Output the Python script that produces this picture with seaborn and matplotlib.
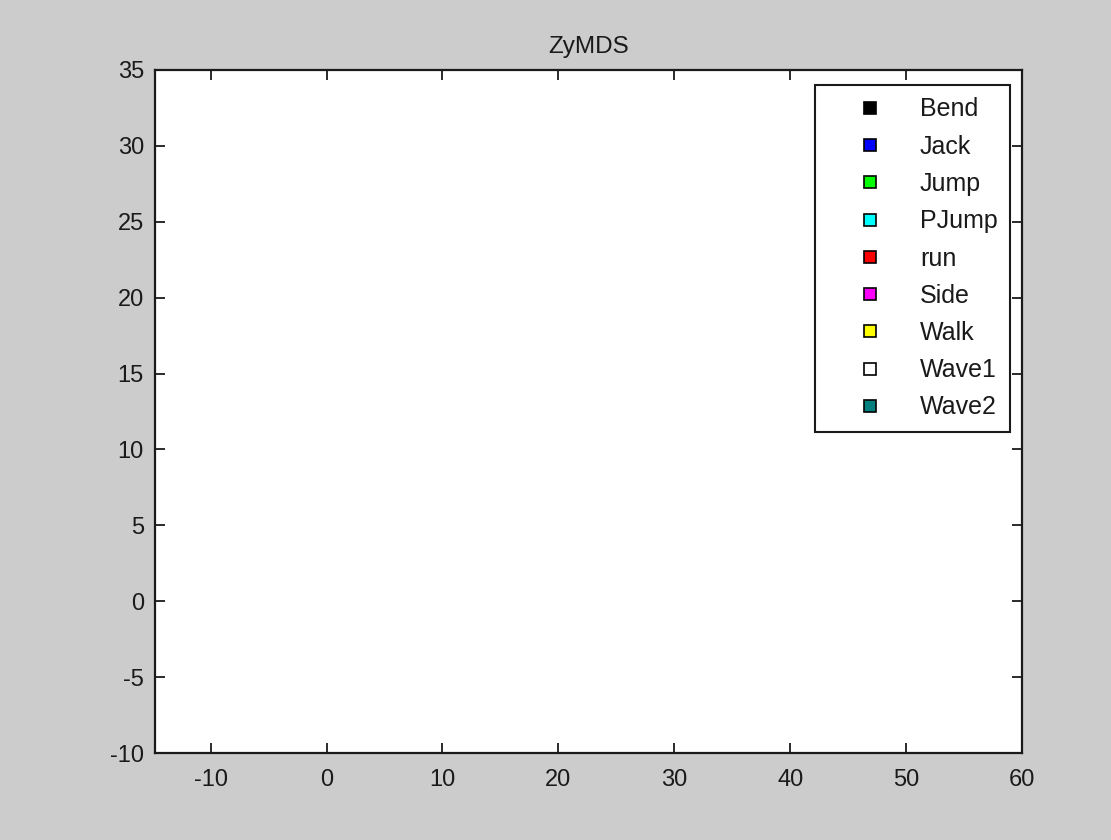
import matplotlib
matplotlib.use("Agg")
import matplotlib.pyplot as plt
import seaborn as sns
import pandas as pd

# Activity classes and their marker colours
activities = ["Bend", "Jack", "Jump", "PJump", "run", "Side", "Walk", "Wave1", "Wave2"]
colors = ["#000000", "#0000ff", "#00ff00", "#00ffff", "#ff0000",
          "#ff00ff", "#ffff00", "#ffffff", "#007f7f"]

# Embedded coordinates per activity (none fall inside the shown window)
xs = [[] for _ in activities]
ys = [[] for _ in activities]

x_limits = (-14.8, 60)
y_limits = (-10, 35)
x_ticks = [-10, 0, 10, 20, 30, 40, 50, 60]
y_ticks = [-10, -5, 0, 5, 10, 15, 20, 25, 30, 35]

sns.set_theme(style="ticks")
plt.rcParams["font.family"] = ["Liberation Sans", "DejaVu Sans"]
plt.rcParams["text.color"] = "#1a1a1a"
plt.rcParams["axes.unicode_minus"] = False

fig = plt.figure(figsize=(11.11, 8.40), dpi=100, facecolor="#cccccc")
ax = fig.add_axes([155 / 1111, 1 - 753 / 840, 867 / 1111, 683 / 840])
ax.set_facecolor("white")

for name, col, x, y in zip(activities, colors, xs, ys):
    df = pd.DataFrame({"x": pd.Series(x, dtype=float), "y": pd.Series(y, dtype=float)})
    ax.plot(df["x"], df["y"], linestyle="none", marker="s", markersize=8.5,
            markerfacecolor=col, markeredgecolor="black", markeredgewidth=1.2,
            label=name)

ax.set_xlim(*x_limits)
ax.set_ylim(*y_limits)
ax.set_xticks(x_ticks)
ax.set_yticks(y_ticks)
ax.tick_params(direction="in", length=7, width=1.3, top=True, right=True,
               labelsize=17, colors="#1a1a1a")
ax.tick_params(axis="x", pad=11.5)
ax.tick_params(axis="y", pad=8)
for sp in ax.spines.values():
    sp.set_visible(True)
    sp.set_linewidth(1.6)
    sp.set_color("#1a1a1a")

ax.set_title("ZyMDS", fontsize=17.5, pad=12, color="#1a1a1a")

leg = ax.legend(loc="upper right", bbox_to_anchor=(1010 / 1111, 1 - 85 / 840),
                bbox_transform=fig.transFigure, fontsize=18, frameon=True,
                fancybox=False, framealpha=1, edgecolor="#1a1a1a",
                borderpad=0.5, labelspacing=0.53, handlelength=3.4,
                handletextpad=0.28, borderaxespad=0)
leg.get_frame().set_linewidth(1.5)

fig.savefig("out.png", dpi=100, facecolor=fig.get_facecolor())
